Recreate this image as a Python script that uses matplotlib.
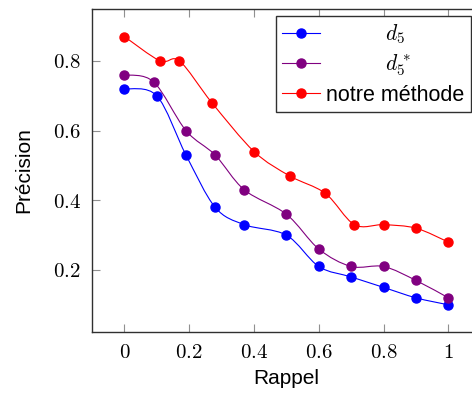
import numpy as np
import matplotlib
matplotlib.use("Agg")
import matplotlib.pyplot as plt
from matplotlib.path import Path
from matplotlib.patches import PathPatch
from matplotlib.lines import Line2D

plt.rcParams['mathtext.fontset'] = 'cm'
plt.rcParams['font.family'] = ['Liberation Sans', 'DejaVu Sans']

# rappel / precision values
rappel_d5 = [0.0, 0.10, 0.19, 0.28, 0.37, 0.50, 0.60, 0.70, 0.80, 0.90, 1.0]
prec_d5 = [0.72, 0.70, 0.53, 0.38, 0.33, 0.30, 0.21, 0.18, 0.15, 0.12, 0.10]

rappel_d5s = [0.0, 0.09, 0.19, 0.28, 0.37, 0.50, 0.60, 0.70, 0.80, 0.90, 1.0]
prec_d5s = [0.76, 0.74, 0.60, 0.53, 0.43, 0.36, 0.26, 0.21, 0.21, 0.17, 0.12]

rappel_notre = [0.0, 0.11, 0.17, 0.27, 0.40, 0.51, 0.62, 0.71, 0.80, 0.90, 1.0]
prec_notre = [0.87, 0.80, 0.80, 0.68, 0.54, 0.47, 0.42, 0.33, 0.33, 0.32, 0.28]

xticks = [0, 0.2, 0.4, 0.6, 0.8, 1]
yticks = [0.2, 0.4, 0.6, 0.8]

series = [
    (rappel_d5, prec_d5, 'blue', '          $d_5$'),
    (rappel_d5s, prec_d5s, '#800080', '          $d_5^*$'),
    (rappel_notre, prec_notre, 'red', 'notre méthode'),
]


def smooth_path(x, y, k=0.16):
    # bezier curve through the points, like tikz "smooth"
    p = np.column_stack([x, y])
    n = len(p)
    verts = [p[0]]
    codes = [Path.MOVETO]
    for i in range(n - 1):
        prev = p[i - 1] if i > 0 else p[i]
        nxt = p[i + 2] if i + 2 < n else p[i + 1]
        c1 = p[i] + k * (p[i + 1] - prev)
        c2 = p[i + 1] - k * (nxt - p[i])
        verts += [c1, c2, p[i + 1]]
        codes += [Path.CURVE4] * 3
    return Path(verts, codes)


W, H = 472, 393
fig = plt.figure(figsize=(W / 100, H / 100), dpi=100)
ax = fig.add_axes([92 / W, (H - 332) / H, 388.8 / W, 323 / H])

handles = []
for x, y, c, lab in series:
    ax.add_patch(PathPatch(smooth_path(x, y), fill=False, edgecolor=c, lw=0.8))
    ax.plot(x, y, 'o', color=c, ms=6.5, zorder=3)
    handles.append(Line2D([], [], color=c, lw=0.8, marker='o', ms=6.5, label=lab))

ax.set_xlim(-0.1, 1.1)
ax.set_ylim(0.022, 0.949)
ax.set_xticks(xticks, labels=[f'${v:g}$' for v in xticks])
ax.set_yticks(yticks, labels=[f'${v:g}$' for v in yticks])
ax.tick_params(direction='in', top=True, right=True, length=6, width=0.8,
               color='#909090', labelsize=15, pad=8)
for s in ax.spines.values():
    s.set_color('#303030')
    s.set_linewidth(1)

ax.set_xlabel('Rappel', fontsize=15, labelpad=5)
ax.set_ylabel('Précision', fontsize=15, labelpad=14)

leg = ax.legend(handles=handles, loc='upper right',
                bbox_to_anchor=(471 / W, (H - 16) / H),
                bbox_transform=fig.transFigure, borderaxespad=0,
                fontsize=15.5, fancybox=False, framealpha=1,
                edgecolor='#303030', handlelength=1.75, handletextpad=0.3,
                labelspacing=0.3, borderpad=0.3)
leg.get_frame().set_linewidth(1)

fig.savefig('out.png', dpi=100)
